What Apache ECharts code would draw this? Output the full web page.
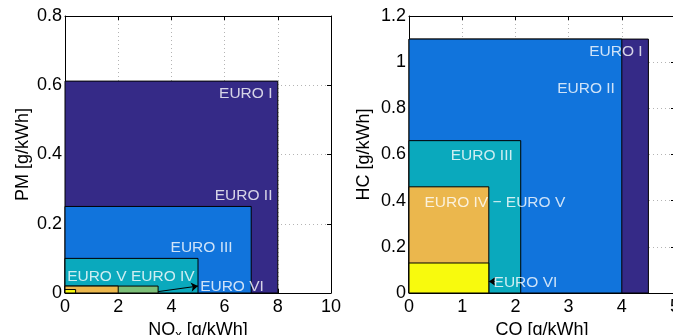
<!DOCTYPE html>
<html><head><meta charset="utf-8">
<script src="https://cdn.jsdelivr.net/npm/echarts@6/dist/echarts.min.js"></script>
<style>html,body{margin:0;padding:0;overflow:hidden;background:#fff}#c{width:673px;height:335px}</style>
</head><body><div id="c"></div>
<script>
// Left panel: NOx vs PM limits
const leftNames = ['EURO I','EURO II','EURO III','EURO IV','EURO V','EURO VI'];
const leftNOx = [8, 7, 5, 3.5, 2.0, 0.4];
const leftPM = [0.612, 0.25, 0.1, 0.02, 0.02, 0.01];
// Right panel: CO vs HC limits
const rightNames = ['EURO I','EURO II','EURO III','EURO IV − EURO V','EURO VI'];
const rightCO = [4.5, 4.0, 2.1, 1.5, 1.5];
const rightHC = [1.1, 1.1, 0.66, 0.46, 0.13];
// Label anchor positions (data units)
const leftLabels = [
  {t:'EURO I', x:7.8, y:0.575, a:'right'},
  {t:'EURO II', x:7.8, y:0.28, a:'right'},
  {t:'EURO III', x:6.3, y:0.13, a:'right'},
  {t:'EURO V', x:0.08, y:0.046, a:'left'},
  {t:'EURO IV', x:2.48, y:0.046, a:'left'},
  {t:'EURO VI', x:5.08, y:0.017, a:'left'}
];
const rightLabels = [
  {t:'EURO I', x:4.39, y:1.047, a:'right'},
  {t:'EURO II', x:3.87, y:0.886, a:'right'},
  {t:'EURO III', x:1.95, y:0.596, a:'right'},
  {t:'EURO IV − EURO V', x:0.29, y:0.391, a:'left'},
  {t:'EURO VI', x:1.59, y:0.046, a:'left'}
];
const leftArrow = [[3.5, 0.004], [5.0, 0.02]];
const rightArrow = [[1.62, 0.05], [1.5, 0.05]];

const C = {navy:'#352a87', blue:'#1174dc', teal:'#0aa9bd', green:'#7cbf78', orange:'#ebb74d', yellow:'#f8fa0d'};
const leftColors = [C.navy, C.blue, C.teal, C.green, C.orange, C.yellow];
const rightColors = [C.navy, C.blue, C.teal, C.orange, C.yellow];

const FONT = 'Liberation Sans, Arial, sans-serif';
function rectSeries(xi, yi, xs, ys, cols){
  return {type:'custom', xAxisIndex:xi, yAxisIndex:yi, z:2,
    data: xs.map((v,i)=>({value:[v, ys[i]], itemStyle:{color:cols[i]}})),
    renderItem:function(params, api){
      const p0 = api.coord([0,0]);
      const p1 = api.coord([api.value(0), api.value(1)]);
      return {type:'rect', shape:{x:p0[0], y:p1[1], width:p1[0]-p0[0], height:p0[1]-p1[1]},
        style:{fill:api.visual('color'), stroke:'#000', lineWidth:1}};
    }};
}
function labelSeries(xi, yi, labels){
  return {type:'scatter', xAxisIndex:xi, yAxisIndex:yi, symbolSize:0, z:5, silent:true,
    data: labels.map(l=>({value:[l.x,l.y], name:l.t, label:{align:l.a}})),
    label:{show:true, position:'inside', formatter:'{b}', color:'#fff', fontSize:15.5, fontFamily:FONT, verticalAlign:'middle'}};
}
function arrowSeries(xi, yi, pts){
  return {type:'lines', coordinateSystem:'cartesian2d', xAxisIndex:xi, yAxisIndex:yi, z:4, silent:true,
    symbol:['none','arrow'], symbolSize:7,
    lineStyle:{color:'#000', width:1, opacity:1},
    data:[{coords:pts}]};
}
function xAx(grid, max, interval, name, pos){
  const bottom = pos === 'bottom';
  return {type:'value', gridIndex:grid, min:0, max:max, interval:interval, position:pos,
    axisLine:{show:true, onZero:false, lineStyle:{color:'#000', width:1}},
    axisTick:{show:true, inside:true, length:4, lineStyle:{color:'#000'}},
    axisLabel:{show:bottom, color:'#000', fontSize:18, fontFamily:FONT, margin:5},
    splitLine:{show:bottom, lineStyle:{color:'#b4b4b4', type:[1,3], width:1}},
    name: bottom ? name : '', nameLocation:'middle', nameGap:22,
    nameTextStyle:{color:'#000', fontSize:18, fontFamily:FONT,
      rich:{s:{fontSize:13, fontFamily:FONT, color:'#000', padding:[12,0,0,0]}}}};
}
function yAx(grid, max, interval, name, pos, gap){
  const left = pos === 'left';
  return {type:'value', gridIndex:grid, min:0, max:max, interval:interval, position:pos,
    axisLine:{show:true, onZero:false, lineStyle:{color:'#000', width:1}},
    axisTick:{show:true, inside:true, length:4, lineStyle:{color:'#000'}},
    axisLabel:{show:left, color:'#000', fontSize:18, fontFamily:FONT, margin:3},
    splitLine:{show:left, lineStyle:{color:'#b4b4b4', type:[1,3], width:1}},
    name: left ? name : '', nameLocation:'middle', nameGap:gap,
    nameTextStyle:{color:'#000', fontSize:18, fontFamily:FONT}};
}
const chart = echarts.init(document.getElementById('c'), null, {renderer:'canvas'});
chart.setOption({
  animation:false,
  backgroundColor:'#fff',
  grid:[
    {left:65, top:16, width:266, height:277, outerBoundsMode:'none', containLabel:false},
    {left:409, top:16, width:266, height:277, outerBoundsMode:'none', containLabel:false}
  ],
  xAxis:[
    xAx(0, 10, 2, 'NO{s|x} [g/kWh]', 'bottom'),
    xAx(0, 10, 2, '', 'top'),
    xAx(1, 5, 1, 'CO [g/kWh]', 'bottom'),
    xAx(1, 5, 1, '', 'top')
  ],
  yAxis:[
    yAx(0, 0.8, 0.2, 'PM [g/kWh]', 'left', 33),
    yAx(0, 0.8, 0.2, '', 'right', 0),
    yAx(1, 1.2, 0.2, 'HC [g/kWh]', 'left', 36),
    yAx(1, 1.2, 0.2, '', 'right', 0)
  ],
  series:[
    rectSeries(0, 0, leftNOx, leftPM, leftColors),
    rectSeries(2, 2, rightCO, rightHC, rightColors),
    labelSeries(0, 0, leftLabels),
    labelSeries(2, 2, rightLabels),
    arrowSeries(0, 0, leftArrow),
    arrowSeries(2, 2, rightArrow)
  ]
});
</script></body></html>
